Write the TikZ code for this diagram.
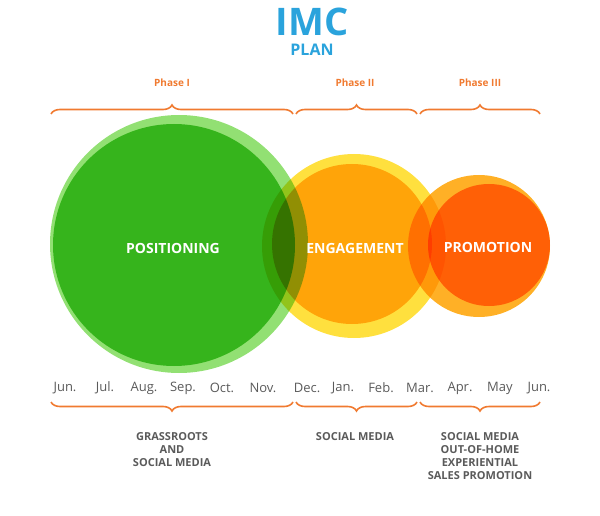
\documentclass[tikz,border=0pt]{standalone}
\usepackage{fontspec}
\setmainfont{Open Sans}
\usetikzlibrary{decorations.pathreplacing}
\definecolor{imcblue}{HTML}{2AA3DC}
\definecolor{braceor}{HTML}{F07A30}
\definecolor{txtgray}{HTML}{5A5A5A}
\definecolor{gout}{HTML}{7FDB5A}
\definecolor{gin}{HTML}{43C420}
\definecolor{yout}{HTML}{FFDA1C}
\definecolor{yin}{HTML}{FFB000}
\definecolor{oout}{HTML}{FFA200}
\definecolor{oin}{HTML}{FF7800}
\begin{document}
\begin{tikzpicture}[x=1pt,y=-1pt,
  br/.style={draw=braceor,line width=1.6pt,decorate,decoration={brace,amplitude=9pt}},
  ph/.style={text=braceor,font=\bfseries\fontsize{10}{12}\selectfont},
  mo/.style={text=txtgray,font=\fontsize{13}{15}\selectfont},
  lb/.style={text=txtgray,font=\bfseries\fontsize{11}{13}\selectfont,align=center},
  cl/.style={text=white,font=\bfseries\fontsize{14}{16}\selectfont},
  bub/.style={fill opacity=0.85}]
\useasboundingbox (0,0) rectangle (600,516);
\node[text=imcblue,font=\bfseries\fontsize{38}{40}\selectfont] (imc) at (312,22) {IMC};
\node[text=imcblue,font=\bfseries\fontsize{16}{18}\selectfont] (plan) at (312,50) {PLAN};
\node[ph] (p1) at (172,83) {Phase I};
\node[ph] (p2) at (355,83) {Phase II};
\node[ph] (p3) at (480,83) {Phase III};
\draw[br] (51,114) -- (293,114);
\draw[br] (296,114) -- (417,114);
\draw[br] (420,114) -- (540,114);
\begin{scope}[transparency group]
\fill[gout,bub,blend mode=multiply] (179,244) circle (129);
\fill[gin,bub,blend mode=multiply] (174,245) circle (121);
\fill[yout,bub,blend mode=multiply] (354,246) circle (92);
\fill[yin,bub,blend mode=multiply] (352,244) circle (80);
\fill[oout,bub,blend mode=multiply] (479,246) circle (71);
\fill[oin,bub,blend mode=multiply] (489,245) circle (61);
\end{scope}
\node[cl] (pos) at (173,248) {POSITIONING};
\node[cl] (eng) at (355,248) {ENGAGEMENT};
\node[cl] (pro) at (488,247) {PROMOTION};
\foreach \m/\x [count=\i] in {Jun./65,Jul./105,Aug./144,Sep./183,Oct./222,Nov./263,Dec./307,Jan./343,Feb./381,Mar./420,Apr./460,May/500,Jun./539}
  \node[mo] (m\i) at (\x,388) {\m};
\draw[br] (293,402) -- (51,402);
\draw[br] (417,402) -- (296,402);
\draw[br] (540,402) -- (420,402);
\node[lb] (t1) at (172,450) {GRASSROOTS\\AND\\SOCIAL MEDIA};
\node[lb] (t2) at (355,437) {SOCIAL MEDIA};
\node[lb] (t3) at (480,456) {SOCIAL MEDIA\\OUT-OF-HOME\\EXPERIENTIAL\\SALES PROMOTION};
\end{tikzpicture}
\end{document}
